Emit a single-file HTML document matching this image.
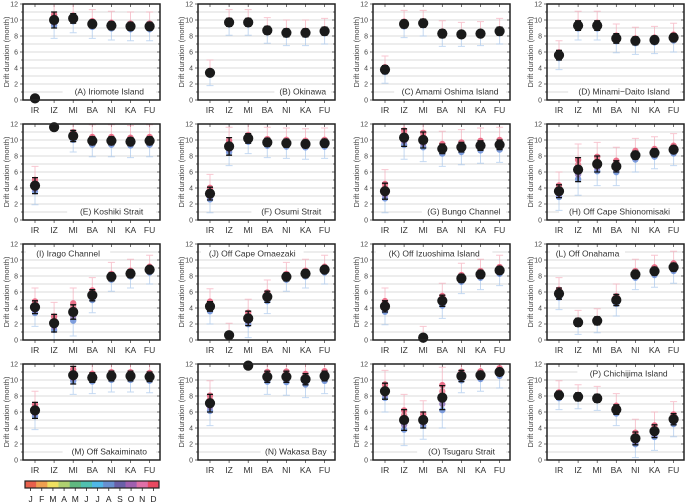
<!DOCTYPE html>
<html><head><meta charset="utf-8"><style>
html,body{margin:0;padding:0;background:#fff}
svg{display:block;font-family:"Liberation Sans",sans-serif}
</style></head><body>
<svg id="fig" width="685" height="504" viewBox="0 0 685 504"></svg>
<script>
const stations = ["IR","IZ","MI","BA","NI","KA","FU"];
const panelTitles = ["(A) Iriomote Island","(B) Okinawa","(C) Amami Oshima Island","(D) Minami\u2212Daito Island",
"(E) Koshiki Strait","(F) Osumi Strait","(G) Bungo Channel","(H) Off Cape Shionomisaki",
"(I) Irago Channel","(J) Off Cape Omaezaki","(K) Off Izuoshima Island","(L) Off Onahama",
"(M) Off Sakaiminato","(N) Wakasa Bay","(O) Tsugaru Strait","(P) Chichijima Island"];
const labelPos = ["br","br","br","br","br","br","br","br","tl","tl","tl","tl","br","br","br","tr"];
const meanA=[0.2,10.0,10.2,9.5,9.3,9.2,9.2];
const meanB=[3.4,9.7,9.7,8.7,8.4,8.4,8.6];
const meanC=[3.8,9.5,9.6,8.3,8.2,8.3,8.6];
const meanD=[5.6,9.3,9.3,7.7,7.4,7.5,7.8];
const meanE=[4.3,11.6,10.5,9.9,9.9,9.8,9.9];
const meanF=[3.3,9.2,10.2,9.7,9.6,9.5,9.6];
const meanG=[3.6,10.3,10.0,8.9,9.1,9.3,9.4];
const meanH=[3.6,6.3,7.0,6.7,8.1,8.4,8.8];
const meanI=[4.1,2.1,3.5,5.6,7.9,8.3,8.8];
const meanJ=[4.2,0.6,2.7,5.4,7.9,8.3,8.8];
const meanK=[4.2,null,0.3,4.9,7.7,8.2,8.7];
const meanL=[5.8,2.2,2.4,5.0,8.2,8.6,9.1];
const meanM=[6.2,null,10.6,10.3,10.5,10.5,10.4];
const meanN=[7.1,null,11.8,10.4,10.4,10.1,10.5];
const meanO=[8.6,5.0,5.0,7.8,10.5,10.6,11.0];
const meanP=[8.1,7.9,7.7,6.3,2.7,3.6,5.1];
const errA=[0,1.0,0.6,0.5,0.5,0.5,0.5], errB=[0.4,0.5,0.5,0.5,0.5,0.5,0.5], errC=[0.5,0.5,0.5,0.5,0.4,0.4,0.5], errD=[0.6,0.6,0.6,0.6,0.5,0.5,0.5];
const errE=[1.0,0,0.7,0.5,0.5,0.5,0.5], errF=[0.8,1.1,0.6,0.5,0.5,0.5,0.5], errG=[1.0,1.1,1.0,0.6,0.6,0.6,0.6], errH=[0.8,1.5,1.0,0.7,0.5,0.5,0.4];
const errI=[0.8,1.1,0.9,0.7,0.5,0.5,0.4], errJ=[0.6,0.4,0.9,0.7,0.5,0.5,0.4], errK=[0.7,0,0.2,0.7,0.5,0.5,0.4], errL=[0.7,0.5,0.5,0.7,0.5,0.5,0.5];
const errM=[1.0,0,1.1,0.6,0.6,0.6,0.6], errN=[1.1,0,0,0.7,0.7,0.7,0.6], errO=[1.0,1.3,1.0,1.5,0.7,0.5,0.4], errP=[0.5,0.5,0.5,0.6,0.8,0.8,0.7];
const spreadA=[0,1.1,0.6,0.6,0.6,0.6,0.6], spreadB=[0.4,0.4,0.4,0.4,0.4,0.4,0.4], spreadC=[0.5,0.5,0.4,0.4,0.3,0.3,0.4], spreadD=[0.6,0.6,0.6,0.6,0.5,0.5,0.6];
const spreadE=[1.2,0,0.8,0.8,0.8,0.8,0.8], spreadF=[1.2,1.2,0.7,0.7,0.7,0.7,0.7], spreadG=[1.5,1.5,1.5,1.0,1.0,1.0,1.0], spreadH=[1.2,2.0,1.5,1.2,0.9,0.8,0.8];
const spreadI=[1.2,1.4,1.8,1.0,0.6,0.6,0.6], spreadJ=[1.0,0.3,1.2,0.9,0.6,0.6,0.6], spreadK=[1.1,0,0.2,1.0,0.7,0.7,0.7], spreadL=[0.8,0.3,0.3,0.8,0.7,0.8,0.8];
const spreadM=[1.2,0,1.2,0.8,0.8,0.8,0.8], spreadN=[1.6,0,0,1.0,1.1,1.1,1.0], spreadO=[1.4,2.0,1.2,2.6,0.9,0.8,0.8], spreadP=[0.6,0.3,0.3,0.8,1.2,1.2,1.0];
const yTicks=[0,2,4,6,8,10,12];
const monthLabels=["J","F","M","A","M","J","J","A","S","O","N","D"];
const monthColors=["#e8604c","#f0a050","#f0e060","#b0d070","#60b880","#50c0b0","#50b8e8","#6890d0","#6a60a8","#a060b0","#e070a8","#e84860"];
const means=[meanA,meanB,meanC,meanD,meanE,meanF,meanG,meanH,meanI,meanJ,meanK,meanL,meanM,meanN,meanO,meanP];
const errs=[errA,errB,errC,errD,errE,errF,errG,errH,errI,errJ,errK,errL,errM,errN,errO,errP];
const spreads=[spreadA,spreadB,spreadC,spreadD,spreadE,spreadF,spreadG,spreadH,spreadI,spreadJ,spreadK,spreadL,spreadM,spreadN,spreadO,spreadP];

const NS="http://www.w3.org/2000/svg";
const svg=document.getElementById('fig');
function mk(tag,attrs,parent){const e=document.createElementNS(NS,tag);for(const k in attrs)e.setAttribute(k,attrs[k]);(parent||svg).appendChild(e);return e;}
function s_(i){return stations[i].toLowerCase();}
const lefts=[23,198,373,547], tops=[4,124,244,364], W=137, H=96;

for(let p=0;p<16;p++){
  const L=lefts[p%4], T=tops[Math.floor(p/4)];
  const g=mk('g',{});
  
  
  const xs=i=>L+12+i*19.1;
  const ys=v=>T+H-v/12*H;
  for(let v=1;v<12;v++){
    const gl=mk('line',{x1:L,x2:L+W,y1:ys(v),y2:ys(v),stroke:"#cfcfcf","stroke-width":0.8},g);
    
    
  }
  for(let v=0;v<=12;v++){
    const len=v%2===0?3:2;
    mk('line',{x1:L-len,x2:L,y1:ys(v),y2:ys(v),stroke:"#333","stroke-width":0.7},g);
    mk('line',{x1:L+W,x2:L+W-len,y1:ys(v),y2:ys(v),stroke:"#333","stroke-width":0.7},g);
  }
  yTicks.forEach(v=>{
    const t=mk('text',{x:L-5,y:ys(v)+2.5,"font-size":7,"text-anchor":"end",fill:"#444"},g);
    t.textContent=v;
    
    
  });
  const yt=mk('text',{x:L-14,y:T+H/2,"font-size":7.5,"text-anchor":"middle",fill:"#444",transform:`rotate(-90 ${L-14} ${T+H/2})`},g);
  yt.textContent="Drift duration (month)";
  
  
  stations.forEach((s,i)=>{
    mk('line',{x1:xs(i),x2:xs(i),y1:T,y2:T+3,stroke:"#333","stroke-width":0.7},g);
    mk('line',{x1:xs(i),x2:xs(i),y1:T+H,y2:T+H+3,stroke:"#333","stroke-width":0.7},g);
    const t=mk('text',{x:xs(i),y:T+H+13,"font-size":8.5,"text-anchor":"middle",fill:"#333"},g);
    t.textContent=s;
    
    
  });
  const lt=panelTitles[p], pos=labelPos[p];
  const tw=lt.length*4.6+6;
  let lx,ly;
  if(pos==="br"){lx=L+W-4-tw;ly=T+H-14;} else if(pos==="tl"){lx=L+3;ly=T+4;} else {lx=L+W-4-tw;ly=T+4;}
  mk('rect',{x:lx,y:ly,width:tw,height:11,fill:"#fff"},g);
  const lab=mk('text',{x:lx+tw/2,y:ly+8.5,"font-size":8.5,"text-anchor":"middle",fill:"#333"},g);
  lab.textContent=lt;
  
  
  means[p].forEach((m,i)=>{
    if(m===null)return;
    const sp=spreads[p][i], e=errs[p][i], x=xs(i);
    if(sp>0){
      const top=Math.min(12,m+sp+1.2), bot=Math.max(0,m-sp-1.2);
      const wb=mk('path',{d:`M${x},${ys(top)}V${ys(m)}M${x-3.5},${ys(top)}h7`,stroke:"#f4a0b0","stroke-width":1,fill:"none",opacity:0.6},g);
      
      
      const wl=mk('path',{d:`M${x},${ys(m)}V${ys(bot)}M${x-3.5},${ys(bot)}h7`,stroke:"#9cc0ea","stroke-width":1,fill:"none",opacity:0.6},g);
      
      
      [[m+sp*0.6,"#e85a78"],[m-sp*0.6,"#6a8ed8"],[m+sp*0.3,"#f07a90"],[m-sp*0.3,"#8a70b8"]].forEach(([v,c])=>{
        const d=mk('circle',{cx:x,cy:ys(v),r:3.2,fill:c,opacity:0.85},g);
        
        
      });
    }
    if(e>0){
      const eb=mk('path',{d:`M${x},${ys(m+e)}V${ys(m-e)}M${x-3},${ys(m+e)}h6M${x-3},${ys(m-e)}h6`,stroke:"#111","stroke-width":1.3,fill:"none"},g);
      
      
    }
    const c=mk('circle',{cx:x,cy:ys(m),r:5.1,fill:"#1a1a1a"},g);
    
    
  });
  const fr=mk('rect',{x:L,y:T,width:W,height:H,fill:"none",stroke:"#222","stroke-width":1.5},g);
  
  
}
const cb=mk('g',{});


const cbL=25, cbW=134, cbT=481, cbH=7, cw=cbW/12;
monthColors.forEach((c,i)=>{
  const r=mk('rect',{x:cbL+i*cw,y:cbT,width:cw+0.3,height:cbH,fill:c},cb);
  
  
  mk('line',{x1:cbL+i*cw+cw/2,x2:cbL+i*cw+cw/2,y1:cbT+cbH,y2:cbT+cbH+3,stroke:"#222","stroke-width":0.8},cb);
  const t=mk('text',{x:cbL+i*cw+cw/2,y:cbT+cbH+14,"font-size":8.5,"text-anchor":"middle",fill:"#222"},cb);
  t.textContent=monthLabels[i];
  
  
});
mk('rect',{x:cbL,y:cbT,width:cbW,height:cbH,fill:"none",stroke:"#222","stroke-width":1.2},cb);
</script>
</body></html>
